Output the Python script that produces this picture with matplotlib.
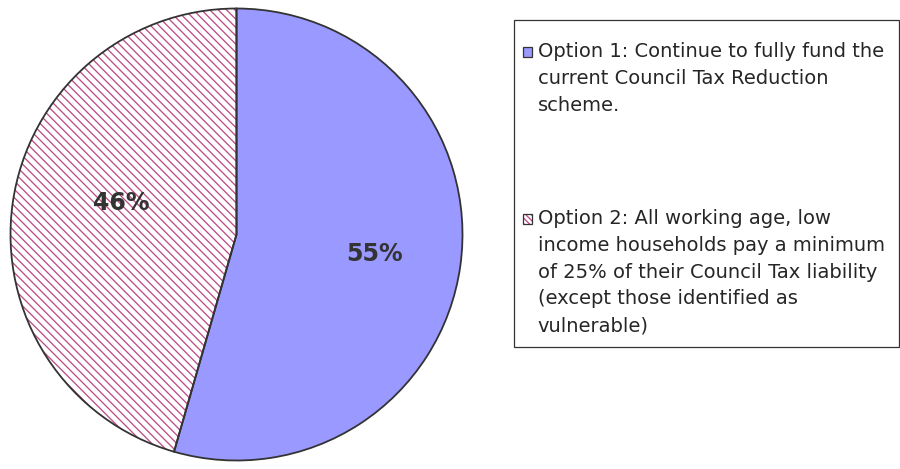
import matplotlib.pyplot as plt
import numpy as np
from matplotlib.patches import Rectangle

plt.rcParams['font.family'] = ['DejaVu Sans']
plt.rcParams['hatch.linewidth'] = 0.95

# survey result shares (percent)
options = ["Option 1", "Option 2"]
shares = [55, 46]
legend_labels = [
    ["Option 1: Continue to fully fund the",
     "current Council Tax Reduction",
     "scheme."],
    ["Option 2: All working age, low",
     "income households pay a minimum",
     "of 25% of their Council Tax liability",
     "(except those identified as",
     "vulnerable)"],
]

BLUE = "#9999FF"
HATCH_PINK = "#BC4E88"
EDGE = "#333333"

W, H = 900, 469
fig = plt.figure(figsize=(W / 100, H / 100), dpi=100)

# pie area in pixel units (left, top, size)
px_left, px_top, px_size = 10.5, 8.5, 452
ax = fig.add_axes([px_left / W, (H - px_top - px_size) / H, px_size / W, px_size / H])

facecolors = [BLUE, "white"]
hatches = ["", "\\\\\\\\"]

# fill + hatch layer (hatch takes the edge colour, so no outline here)
wedges, _ = ax.pie(shares, startangle=90, counterclock=False, radius=1,
                   colors=facecolors,
                   wedgeprops=dict(edgecolor=HATCH_PINK, linewidth=0))
for w, h in zip(wedges, hatches):
    w.set_hatch(h)

# outline layer
ax.pie(shares, startangle=90, counterclock=False, radius=1,
       colors=["none", "none"],
       wedgeprops=dict(edgecolor=EDGE, linewidth=1.3))

ax.set_xlim(-1, 1)
ax.set_ylim(-1, 1)
ax.set_aspect("equal")
ax.axis("off")

# percentage labels at each wedge's mid angle
label_r = [0.615, 0.53]
label_shift = [0.0, -7.0]  # degrees
for w, val, r, d in zip(wedges, shares, label_r, label_shift):
    mid = np.deg2rad((w.theta1 + w.theta2) / 2 + d)
    ax.text(r * np.cos(mid), r * np.sin(mid), f"{val}%", ha="center", va="center",
            fontsize=17, fontweight="bold", color=EDGE)

# legend drawn in pixel space
lax = fig.add_axes([0, 0, 1, 1])
lax.set_xlim(0, W)
lax.set_ylim(H, 0)
lax.axis("off")
lax.add_patch(Rectangle((513.5, 20.5), 385, 327, facecolor="none",
                        edgecolor=EDGE, linewidth=0.9))

entry_baselines = [57.3, 224.3]
line_step = 26.7
swatch_hatch = ["", "\\\\\\\\\\\\"]
for lines, base, fc, hh in zip(legend_labels, entry_baselines, facecolors, swatch_hatch):
    sw = (522.5, base - 10)
    lax.add_patch(Rectangle(sw, 9.5, 9.5, facecolor=fc, edgecolor=HATCH_PINK,
                            linewidth=0, hatch=hh))
    lax.add_patch(Rectangle(sw, 9.5, 9.5, facecolor="none", edgecolor=EDGE,
                            linewidth=0.9))
    for i, line in enumerate(lines):
        lax.text(537.5, base + i * line_step, line, ha="left", va="baseline",
                 fontsize=14, color="#262626")

fig.savefig("out.png", dpi=100)
